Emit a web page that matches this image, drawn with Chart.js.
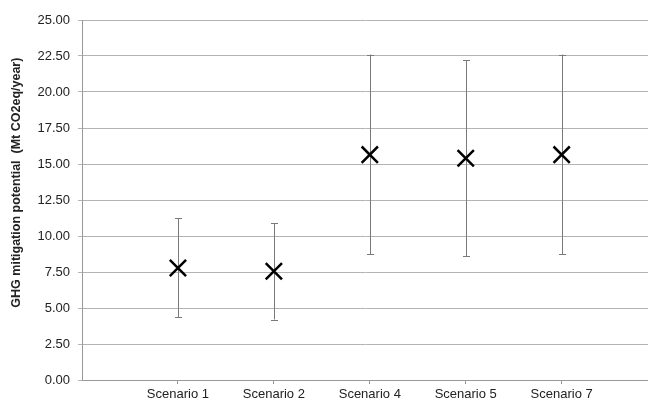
<!DOCTYPE html>
<html>
<head>
<meta charset="utf-8">
<script src="https://cdn.jsdelivr.net/npm/chart.js@4"></script>
<style>
  html, body { margin: 0; padding: 0; background: #fff; overflow: hidden; }
  #wrap { width: 648px; height: 405px; }
</style>
</head>
<body>
<div id="wrap"><canvas id="myChart" width="648" height="405"></canvas></div>
<script>
const categories = ['Scenario 1', 'Scenario 2', 'Scenario 4', 'Scenario 5', 'Scenario 7'];
const potential = [7.78, 7.55, 15.65, 15.40, 15.65];
const lowValues = [4.35, 4.20, 8.75, 8.60, 8.75];
const highValues = [11.25, 10.90, 22.60, 22.20, 22.60];
const yTicks = [0, 2.5, 5, 7.5, 10, 12.5, 15, 17.5, 20, 22.5, 25];

// points sit at x = 1..n on a linear axis
const points = potential.map((v, i) => ({ x: i + 1, y: v }));

const errorBars = {
    id: 'errorBars',
    beforeDatasetsDraw(chart) {
        const c = chart.ctx;
        const xs = chart.scales.x;
        const ys = chart.scales.y;
        c.save();
        c.strokeStyle = '#7a7a7a';
        c.lineWidth = 1;
        for (let i = 0; i < categories.length; i++) {
            const px = Math.round(xs.getPixelForValue(i + 1)) + 0.5;
            const lo = ys.getPixelForValue(lowValues[i]);
            const hi = ys.getPixelForValue(highValues[i]);
            c.beginPath();
            c.moveTo(px, lo);
            c.lineTo(px, hi);
            c.moveTo(px - 3.5, Math.round(lo) + 0.5);
            c.lineTo(px + 3.5, Math.round(lo) + 0.5);
            c.moveTo(px - 3.5, Math.round(hi) + 0.5);
            c.lineTo(px + 3.5, Math.round(hi) + 0.5);
            c.stroke();
        }
        c.restore();
    }
};

const ctx = document.getElementById('myChart');

const myChart = new Chart(ctx, {
    type: 'scatter',
    data: {
        datasets: [{
            label: 'GHG mitigation potential',
            data: points,
            showLine: false,
            pointStyle: 'crossRot',
            pointRadius: 11.5,
            pointHoverRadius: 11.5,
            pointBorderWidth: 2.5,
            borderColor: '#000',
            backgroundColor: '#000'
        }]
    },
    options: {
        responsive: false,
        animation: false,
        layout: { autoPadding: false, padding: { top: 20, right: 0, bottom: 0, left: 9 } },
        plugins: {
            legend: { display: false },
            tooltip: { enabled: false }
        },
        scales: {
            x: {
                type: 'linear',
                min: 0,
                max: 5.9,
                afterBuildTicks: (axis) => {
                    axis.ticks = categories.map((c, i) => ({ value: i + 1 }));
                },
                afterFit: (axis) => { axis.height = 25; },
                ticks: {
                    autoSkip: false,
                    maxRotation: 0,
                    padding: 3,
                    color: '#222',
                    font: { family: 'Liberation Sans', size: 13 },
                    callback: (v) => categories[v - 1] || ''
                },
                grid: {
                    drawOnChartArea: false,
                    drawTicks: true,
                    tickLength: 4,
                    color: '#999'
                },
                border: { color: '#999', width: 1 }
            },
            y: {
                min: 0,
                max: 25,
                afterBuildTicks: (axis) => {
                    axis.ticks = yTicks.map(v => ({ value: v }));
                },
                afterFit: (axis) => { axis.width = 73; },
                ticks: {
                    padding: 8,
                    color: '#222',
                    font: { family: 'Liberation Sans', size: 13 },
                    callback: (v) => Number(v).toFixed(2)
                },
                grid: {
                    color: '#b4b4b4',
                    lineWidth: 1,
                    tickLength: 4
                },
                border: { color: '#999', width: 1 },
                title: {
                    display: true,
                    text: '          GHG mitigation potential  (Mt CO2eq/year)',
                    color: '#222',
                    font: { family: 'Liberation Sans', size: 12.5, weight: 'bold' },
                    padding: { top: 0, bottom: 4 }
                }
            }
        }
    },
    plugins: [errorBars]
});
</script>
</body>
</html>
